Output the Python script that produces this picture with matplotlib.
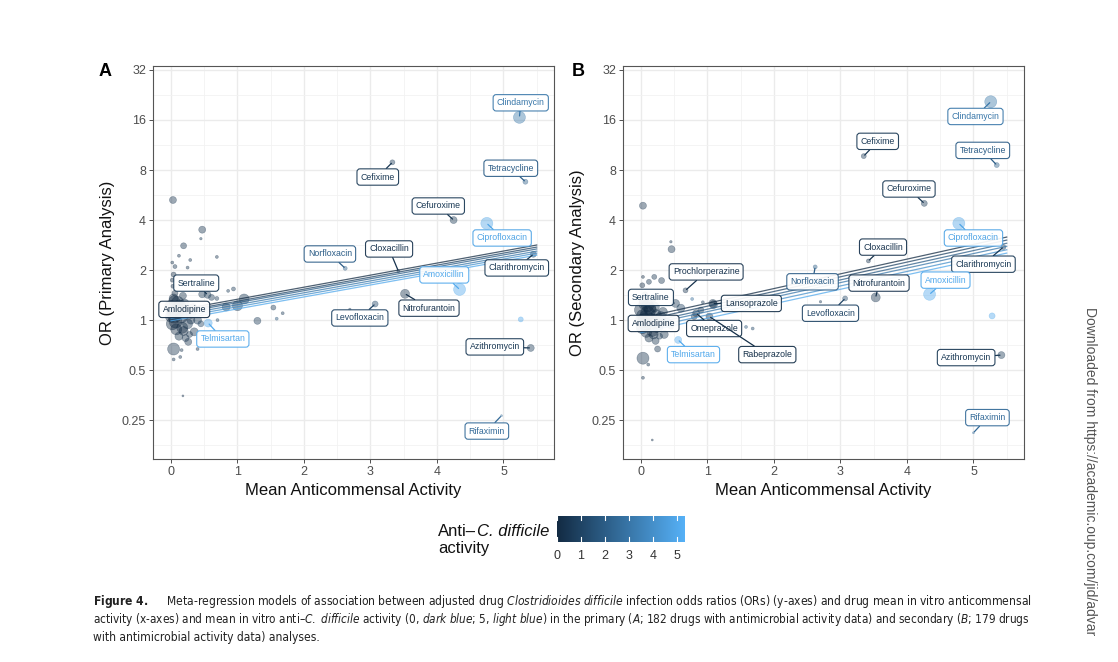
import numpy as np
import matplotlib
matplotlib.use('Agg')
import matplotlib.pyplot as plt
from matplotlib import font_manager
from matplotlib.ticker import NullFormatter
from matplotlib.colors import LinearSegmentedColormap, Normalize

plt.rcParams['font.family'] = ['Liberation Sans', 'DejaVu Sans']

# ---------------- data ----------------
y_ticks = [0.25, 0.5, 1, 2, 4, 8, 16, 32]
y_tick_labels = ['0.25', '0.5', '1', '2', '4', '8', '16', '32']
x_ticks = [0, 1, 2, 3, 4, 5]

# Panel A labelled drugs
a_names = ['Clindamycin', 'Cefixime', 'Tetracycline', 'Cefuroxime', 'Ciprofloxacin',
           'Clarithromycin', 'Norfloxacin', 'Cloxacillin', 'Amoxicillin', 'Nitrofurantoin',
           'Levofloxacin', 'Azithromycin', 'Rifaximin', 'Sertraline', 'Amlodipine', 'Telmisartan']
a_x = [5.24, 3.33, 5.33, 4.25, 4.75, 5.45, 2.62, 3.42, 4.34, 3.52, 3.07, 5.41, 4.97, 0.55, 0.05, 0.56]
a_or = [16.6, 8.9, 6.8, 4.0, 3.82, 2.49, 2.05, 1.97, 1.53, 1.44, 1.25, 0.68, 0.266, 1.42, 1.05, 0.96]
a_wt = [12, 5, 5, 7, 12, 6, 4, 3, 12, 9, 6, 7, 2, 7, 13, 8]
a_act = [3.0, 0.5, 2.0, 0.5, 4.8, 0.5, 2.0, 0.3, 5.0, 0.3, 1.0, 0.5, 2.5, 0.5, 0.0, 5.0]
a_lab_x = [5.26, 3.11, 5.11, 4.02, 4.98, 5.20, 2.39, 3.28, 4.11, 3.88, 2.84, 4.87, 4.75, 0.38, 0.20, 0.78]
a_lab_or = [20.3, 7.26, 8.2, 4.86, 3.12, 2.06, 2.5, 2.68, 1.87, 1.18, 1.03, 0.69, 0.215, 1.67, 1.16, 0.77]

# Panel A unlabelled drugs
ua_x = [0.03, 0.47, 0.45, 0.19, 0.12, 0.29, 0.69, 0.02, 0.06, 0.25, 0.04, 0.02, 0.03, 0.47, 0.61,
        0.69, 0.86, 0.94, 0.83, 1.00, 1.10, 1.54, 1.68, 1.30, 1.59, 0.70, 0.04, 0.26, 0.16, 0.04,
        0.14, 0.40, 0.18, 2.69, 5.26,
        0.00, 0.05, 0.10, 0.15, 0.02, 0.20, 0.08, 0.25, 0.30, 0.12, 0.35, 0.18, 0.06, 0.40, 0.28,
        0.22, 0.45, 0.08, 0.00, 0.13, 0.33, 0.04, 0.17, 0.10, 0.23, 0.07, 0.14, 0.30, 0.02, 0.19]
ua_or = [5.28, 3.5, 3.09, 2.8, 2.44, 2.3, 2.4, 2.22, 2.1, 2.07, 1.88, 1.74, 1.6, 1.43, 1.37,
         1.35, 1.5, 1.54, 1.2, 1.22, 1.34, 1.19, 1.1, 0.99, 1.02, 1.0, 0.67, 0.74, 0.66, 0.58,
         0.6, 0.67, 0.35, 1.16, 1.01,
         1.2, 1.3, 1.15, 1.05, 0.95, 1.25, 0.88, 0.95, 1.1, 0.8, 0.85, 1.4, 1.45, 1.0, 0.82,
         0.78, 0.95, 1.1, 1.05, 1.22, 1.18, 1.35, 0.9, 1.28, 1.12, 0.98, 1.2, 1.0, 1.12, 0.86]
ua_wt = [7, 7, 2.5, 6, 3, 3, 3, 3, 4, 3, 5, 4, 4, 7, 6,
         4, 3, 4, 8, 10, 10, 5, 3, 7, 3, 3, 12, 7, 3, 3,
         3, 3, 2, 2.5, 5,
         13, 11, 14, 13, 12, 10, 11, 10, 10, 8, 8, 7, 6, 8, 6,
         7, 6, 13, 11, 12, 9, 9, 11, 12, 10, 13, 12, 8, 11, 9]
ua_act = [0.3, 0.3, 0.5, 0.3, 0.3, 0.3, 0.3, 0.2, 0.3, 0.3, 0.0, 0.0, 0.0, 0.5, 0.5,
          0.5, 0.5, 0.5, 0.5, 0.5, 0.5, 0.5, 0.5, 0.5, 1.5, 1.0, 0.3, 0.3, 0.3, 0.3,
          0.3, 0.3, 0.3, 0.5, 5.0,
          0.0, 0.0, 0.0, 0.0, 0.0, 0.2, 0.0, 0.3, 0.3, 0.2, 0.3, 0.2, 0.0, 0.5, 0.4,
          0.3, 0.8, 0.0, 0.0, 0.1, 0.2, 0.0, 0.1, 0.0, 0.2, 0.0, 0.0, 0.3, 0.0, 0.1]

# Panel A regression lines (6 levels of anti-C. difficile activity, 0..5)
a_line_x = [0.0, 5.5]
a_line_or_start = [1.13, 1.10, 1.08, 1.05, 1.02, 0.99]
a_line_or_end = [2.83, 2.75, 2.68, 2.60, 2.53, 2.46]

# Panel B labelled drugs
b_names = ['Clindamycin', 'Cefixime', 'Tetracycline', 'Cefuroxime', 'Ciprofloxacin',
           'Cloxacillin', 'Clarithromycin', 'Norfloxacin', 'Nitrofurantoin', 'Amoxicillin',
           'Levofloxacin', 'Azithromycin', 'Rifaximin', 'Prochlorperazine', 'Lansoprazole',
           'Omeprazole', 'Rabeprazole', 'Sertraline', 'Amlodipine', 'Telmisartan']
b_x = [5.26, 3.35, 5.35, 4.26, 4.78, 3.42, 5.45, 2.62, 3.53, 4.34, 3.07, 5.42, 5.00, 0.67, 1.08,
       0.83, 1.03, 0.52, 0.05, 0.56]
b_or = [20.6, 9.7, 8.57, 5.04, 3.82, 2.27, 2.75, 2.09, 1.37, 1.43, 1.35, 0.616, 0.21, 1.51, 1.26,
        1.10, 1.05, 1.26, 1.0, 0.76]
b_wt = [12, 5, 5, 6, 12, 4, 5, 4, 9, 12, 5, 7, 2, 5, 8, 7, 7, 8, 13, 7]
b_act = [3.0, 0.5, 2.0, 0.5, 4.8, 0.3, 0.5, 2.0, 0.3, 5.0, 1.0, 0.5, 2.5, 0.3, 0.2, 0.2, 0.2,
         0.5, 0.0, 5.0]
b_lab_x = [5.03, 3.56, 5.14, 4.03, 5.00, 3.64, 5.15, 2.58, 3.58, 4.58, 2.85, 4.89, 5.21, 0.98,
           1.66, 1.10, 1.90, 0.15, 0.19, 0.79]
b_lab_or = [16.8, 11.9, 10.5, 6.15, 3.12, 2.75, 2.17, 1.70, 1.67, 1.74, 1.10, 0.595, 0.259, 1.95,
            1.26, 0.89, 0.62, 1.37, 0.955, 0.62]

# Panel B unlabelled drugs
ub_x = [0.03, 0.45, 0.46, 0.03, 0.20, 0.12, 0.31, 0.02, 0.77, 0.93, 1.09, 1.58, 1.68, 0.60,
        0.03, 0.25, 0.11, 0.03, 0.17, 2.70, 5.28, 0.80, 0.90,
        0.00, 0.05, 0.10, 0.15, 0.02, 0.20, 0.08, 0.25, 0.30, 0.12, 0.35, 0.18, 0.06, 0.40,
        0.28, 0.22, 0.45, 0.08, 0.00, 0.13, 0.33, 0.04, 0.17, 0.10, 0.23, 0.07, 0.14, 0.30, 0.02, 0.19]
ub_or = [4.88, 2.96, 2.67, 1.82, 1.82, 1.70, 1.73, 1.62, 1.34, 1.28, 1.24, 0.91, 0.89, 1.18,
         0.59, 0.67, 0.54, 0.45, 0.19, 1.29, 1.06, 1.05, 1.15,
         1.15, 1.25, 1.1, 1.0, 0.9, 1.2, 0.85, 0.9, 1.05, 0.78, 0.82, 1.35, 1.42, 0.97, 0.8,
         0.75, 0.92, 1.05, 1.0, 1.18, 1.12, 1.3, 0.86, 1.22, 1.08, 0.94, 1.15, 0.95, 1.07, 0.82]
ub_wt = [7, 2.5, 7, 3, 5, 5, 6, 5, 3, 3, 8, 3, 3, 8,
         12, 6, 3, 3, 2, 2.5, 6, 6, 6,
         13, 11, 14, 13, 12, 10, 11, 10, 10, 8, 8, 7, 6, 8,
         6, 7, 6, 13, 11, 12, 9, 9, 11, 12, 10, 13, 12, 8, 11, 9]
ub_act = [0.3, 0.3, 0.3, 0.0, 0.3, 0.3, 0.3, 0.0, 2.5, 0.5, 0.5, 1.5, 1.0, 0.8,
          0.3, 0.3, 0.3, 0.3, 0.3, 0.5, 5.0, 0.3, 0.3,
          0.0, 0.0, 0.0, 0.0, 0.0, 0.2, 0.0, 0.3, 0.3, 0.2, 0.3, 0.2, 0.0, 0.5,
          0.4, 0.3, 0.8, 0.0, 0.0, 0.1, 0.2, 0.0, 0.1, 0.0, 0.2, 0.0, 0.0, 0.3, 0.0, 0.1]

# Panel B regression lines
b_line_x = [0.0, 5.5]
b_line_or_start = [1.03, 0.99, 0.95, 0.92, 0.88, 0.84]
b_line_or_end = [3.16, 3.03, 2.90, 2.78, 2.65, 2.53]
line_levels = [0, 1, 2, 3, 4, 5]

cbar_ticks = [0, 1, 2, 3, 4, 5]

# ---------------- styling ----------------
W, H = 1118, 662
fig = plt.figure(figsize=(W / 100, H / 100), dpi=100)
fig.patch.set_facecolor('white')

cmap = LinearSegmentedColormap.from_list('gg', ['#132B43', '#56B1F7'])
norm = Normalize(vmin=0, vmax=5.33)
XLIM = (-0.27, 5.76)
YLIM = (0.146, 33.8)


def fx(px):
    return px / W


def fy(py):
    return 1 - py / H


def draw_panel(rect, names, xs, ors, wts, acts, lab_x, lab_or,
               ux, uor, uwt, uact, lx, l_start, l_end, ylabel):
    ax = fig.add_axes(rect)
    ax.set_yscale('log', base=2)
    ax.set_yticks(y_ticks)
    ax.set_yticklabels(y_tick_labels)
    ax.set_xticks(x_ticks)
    ax.set_xticks([0.5 + i for i in range(6)], minor=True)
    ax.set_yticks([2 ** (k + 0.5) for k in range(-3, 5)], minor=True)
    ax.xaxis.set_minor_formatter(NullFormatter())
    ax.yaxis.set_minor_formatter(NullFormatter())
    ax.set_xlim(*XLIM)
    ax.set_ylim(*YLIM)
    ax.grid(True, which='major', color='#EBEBEB', lw=1.0, zorder=0)
    ax.grid(True, which='minor', color='#F2F2F2', lw=0.6, zorder=0)
    ax.set_axisbelow(True)
    ax.tick_params(which='major', length=3, width=0.6, color='#333333',
                   labelsize=9, labelcolor='#4D4D4D', pad=2)
    ax.tick_params(which='minor', length=0)
    for s in ax.spines.values():
        s.set_color('#555555')
        s.set_linewidth(0.8)
    ax.set_xlabel('Mean Anticommensal Activity', fontsize=12, labelpad=4, color='#111111')
    ax.set_ylabel(ylabel, fontsize=12, labelpad=5, color='#111111')

    ucol = cmap(norm(np.array(uact)))
    ax.scatter(ux, uor, s=(0.72 * np.array(uwt)) ** 2, c=ucol, alpha=0.42,
               edgecolors=ucol, linewidths=0.4, zorder=2)
    col = cmap(norm(np.array(acts)))
    ax.scatter(xs, ors, s=(0.72 * np.array(wts)) ** 2, c=col, alpha=0.42,
               edgecolors=col, linewidths=0.4, zorder=2)

    for lev, o0, o1 in zip(line_levels, l_start, l_end):
        ax.plot(lx, [o0, o1], color=cmap(norm(lev)), alpha=0.75, lw=0.9, zorder=3)

    for n, x, y, tx, ty, a in zip(names, xs, ors, lab_x, lab_or, acts):
        c = cmap(norm(a))
        ax.annotate(n, xy=(x, y), xytext=(tx, ty), ha='center', va='center',
                    fontsize=6.3, color=c, zorder=6,
                    bbox=dict(boxstyle='round,pad=0.42,rounding_size=0.35',
                              fc='white', ec=c, lw=0.8, alpha=0.92),
                    arrowprops=dict(arrowstyle='-', color=c, lw=0.9,
                                    shrinkA=0, shrinkB=1))
    ax.set_xlim(*XLIM)
    ax.set_ylim(*YLIM)
    return ax


rectA = [fx(153), fy(459), (554 - 153) / W, (459 - 66) / H]
rectB = [fx(623), fy(459), (1024 - 623) / W, (459 - 66) / H]
draw_panel(rectA, a_names, a_x, a_or, a_wt, a_act, a_lab_x, a_lab_or,
           ua_x, ua_or, ua_wt, ua_act, a_line_x, a_line_or_start, a_line_or_end,
           'OR (Primary Analysis)')
draw_panel(rectB, b_names, b_x, b_or, b_wt, b_act, b_lab_x, b_lab_or,
           ub_x, ub_or, ub_wt, ub_act, b_line_x, b_line_or_start, b_line_or_end,
           'OR (Secondary Analysis)')

fig.text(fx(105), fy(72), 'A', fontsize=13, fontweight='bold', ha='center', va='center')
fig.text(fx(578), fy(72), 'B', fontsize=13, fontweight='bold', ha='center', va='center')

# colour bar legend
cax = fig.add_axes([fx(556.7), fy(541.7), 128 / W, 26 / H])
grad = np.linspace(0, 5.33, 256).reshape(1, -1)
cax.imshow(grad, aspect='auto', cmap=cmap, norm=norm, extent=[0, 5.33, 0, 1])
cax.set_xticks(cbar_ticks)
cax.set_xlim(0, 5.33)
cax.set_ylim(0, 1)
cax.set_yticks([])
cax.tick_params(axis='x', length=0, labelsize=9, labelcolor='#333333', pad=6)
for t in cbar_ticks:
    cax.plot([t, t], [0, 0.18], color='white', lw=0.8)
    cax.plot([t, t], [0.82, 1], color='white', lw=0.8)
for s in cax.spines.values():
    s.set_visible(False)

fig.canvas.draw()
renderer = fig.canvas.get_renderer()

t1 = fig.text(fx(438), fy(531), 'Anti–', fontsize=12, ha='left', va='center', color='#111111')
w1 = t1.get_window_extent(renderer).width
fig.text(fx(438 + w1 + 0.5), fy(531), 'C. difficile', fontsize=12, fontstyle='italic',
         ha='left', va='center', color='#111111')
fig.text(fx(438), fy(549), 'activity', fontsize=12, ha='left', va='center', color='#111111')

# side watermark text
fig.text(fx(1090), fy(307), 'Downloaded from https://academic.oup.com/jid/advar',
         rotation=-90, fontsize=10, color='#555555', ha='center', va='top')

# caption: one text per line, italics/bold via mathtext in a condensed face
font_names = {f.name for f in font_manager.fontManager.ttflist}
if 'Liberation Sans Narrow' in font_names:
    cap_family = 'Liberation Sans Narrow'
    cap_stretch = 'normal'
    mt = {'rm': 'Liberation Sans Narrow', 'it': 'Liberation Sans Narrow:italic',
          'bf': 'Liberation Sans Narrow:bold'}
else:
    cap_family = 'DejaVu Sans'
    cap_stretch = 'condensed'
    mt = {'rm': 'DejaVu Sans:stretch=condensed',
          'it': 'DejaVu Sans:italic:stretch=condensed',
          'bf': 'DejaVu Sans:bold:stretch=condensed'}
try:
    for k, v in mt.items():
        font_manager.findfont(font_manager.FontProperties(v))
except Exception:
    mt = {'rm': 'DejaVu Sans', 'it': 'DejaVu Sans:italic', 'bf': 'DejaVu Sans:bold'}
plt.rcParams['mathtext.fontset'] = 'custom'
for k, v in mt.items():
    plt.rcParams['mathtext.' + k] = v

cap_lines = [
    r'$\mathbf{Figure\ 4.}$     Meta-regression models of association between adjusted drug '
    r'$\mathit{Clostridioides\ difficile}$ infection odds ratios (ORs) (y-axes) and drug mean in vitro anticommensal',
    r'activity (x-axes) and mean in vitro anti–$\mathit{C.\ difficile}$ activity (0, $\mathit{dark\ blue}$; '
    r'5, $\mathit{light\ blue}$) in the primary ($\mathit{A}$; 182 drugs with antimicrobial activity data) '
    r'and secondary ($\mathit{B}$; 179 drugs',
    'with antimicrobial activity data) analyses.',
]
cap_y = [602, 620, 638]
cap_fit = [True, True, False]
cap_left, cap_right = 93, 1032


def measure(line, size):
    p = fig.text(fx(cap_left), 0.5, line, fontsize=size, family=cap_family,
                 fontstretch=cap_stretch, ha='left', va='center')
    w = p.get_window_extent(renderer).width
    p.remove()
    return w


base_size = 10 * (cap_right - cap_left) / measure(cap_lines[0], 10)
for line, yy, fit in zip(cap_lines, cap_y, cap_fit):
    sz = base_size
    if fit:
        sz = 10 * (cap_right - cap_left) / measure(line, 10)
    fig.text(fx(cap_left), fy(yy), line, fontsize=sz, family=cap_family,
             fontstretch=cap_stretch, ha='left', va='center', color='#222222')

fig.savefig('out.png', dpi=100, facecolor='white')
